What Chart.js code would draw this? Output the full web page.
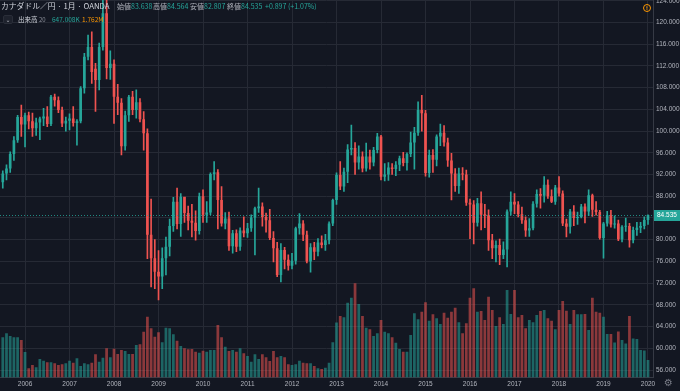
<!DOCTYPE html>
<html lang="ja">
<head>
<meta charset="utf-8">
<title>カナダドル／円 1月 OANDA</title>
<script src="https://cdn.jsdelivr.net/npm/chart.js@4.4.1/dist/chart.umd.min.js"></script>
<style>
    html, body { margin: 0; padding: 0; background: #131722; }
    #wrap { position: relative; width: 680px; height: 391px; overflow: hidden; background: #131722; }
    #chart { display: block; }
    .hdr { position: absolute; white-space: nowrap; font-family: 'Noto Sans CJK JP', 'Noto Sans', sans-serif; line-height: 1; }
    .title { top: 2px; left: 1px; font-size: 7.8px; color: #d1d4dc; }
    .ohlc { top: 2.5px; font-size: 7px; color: #b2b5be; }
    .ohlc b { font-weight: normal; color: #26a69a; }
    .chg { top: 2.5px; font-size: 7px; color: #26a69a; }
    .vol { top: 16px; font-size: 6.5px; color: #d1d4dc; }
    .vol .len { color: #8a8e99; font-size: 6px; }
    .vol.v1 { color: #26a69a; }
    .vol.v2 { color: #ff9800; }
    .toggle { position: absolute; left: 3px; top: 15px; width: 10px; height: 9px; border-radius: 2px; background: #1e222d; border: 1px solid #2a2e39; box-sizing: border-box; color: #b2b5be; font: 6px 'DejaVu Sans', sans-serif; text-align: center; line-height: 8px; }
    .event { position: absolute; left: 643px; top: 4px; width: 8px; height: 8px; border: 1px solid #ff9800; border-radius: 50%; box-sizing: border-box; color: #ff9800; font: bold 5px 'DejaVu Sans', sans-serif; text-align: center; line-height: 6px; }
    .gear { position: absolute; left: 664px; top: 377px; color: #787b86; font: 10px 'DejaVu Sans', sans-serif; }
</style>
</head>
<body>
<div id="wrap">
    <canvas id="chart" width="680" height="391"></canvas>
    <div class="hdr title">カナダドル／円 · 1月 · OANDA</div>
    <div class="hdr ohlc" style="left:117px">始値<b>83.638</b></div>
    <div class="hdr ohlc" style="left:153px">高値<b>84.564</b></div>
    <div class="hdr ohlc" style="left:190px">安値<b>82.807</b></div>
    <div class="hdr ohlc" style="left:227px">終値<b>84.535</b></div>
    <div class="hdr chg" style="left:265px">+0.897 (+1.07%)</div>
    <div class="toggle">⌄</div>
    <div class="hdr vol" style="left:18px">出来高 <span class="len">20</span></div>
    <div class="hdr vol v1" style="left:52px">647.008K</div>
    <div class="hdr vol v2" style="left:82px">1.762M</div>
    <div class="event">!</div>
    <div class="gear">⚙</div>
</div>
<script>
    // monthly candles, Jul 2005 .. Jan 2020
    const START_YEAR = 2005;
    const START_MONTH = 7;

    const opens = [
        90.6, 92.2, 93.1, 95.8, 98.3, 102.6,
        101.2, 102.9, 101.8, 100.5, 101.6, 102.3, 102.7, 101.3, 106.3, 105.7, 103.9, 101.4,
        101.9, 102.3, 101.5, 101.8, 107.9, 113.7, 115.5, 111.5, 109.4, 115.5, 121.7, 111.6,
        112.4, 106.3, 105.2, 97.2, 102.9, 106.3, 103.9, 105.3, 102.2, 99.6, 80.9, 76.6,
        74.1, 73.2, 76.6, 78.7, 82.5, 87.0, 82.9, 87.9, 84.9, 83.5, 83.1, 81.6,
        88.0, 84.6, 85.0, 92.1, 92.4, 87.3, 83.0, 83.9, 78.8, 81.2, 78.7, 81.7,
        81.2, 82.1, 84.1, 85.8, 86.1, 84.2, 83.6, 80.3, 78.4, 73.5, 78.1, 76.3,
        75.2, 76.1, 82.1, 83.0, 80.9, 76.0, 78.6, 77.8, 79.5, 79.0, 79.9, 83.0,
        87.3, 91.9, 89.8, 92.5, 96.6, 96.9, 94.2, 95.3, 93.1, 95.3, 94.2, 96.5,
        99.0, 91.6, 92.0, 93.3, 93.0, 93.8, 95.0, 94.1, 95.8, 97.9, 99.7, 103.9,
        103.3, 92.3, 95.6, 94.7, 99.0, 99.7, 97.9, 94.6, 92.2, 89.9, 92.2, 92.0,
        86.8, 86.5, 83.1, 86.7, 84.6, 84.5, 79.9, 78.4, 79.0, 77.2, 78.2, 85.2,
        87.0, 86.5, 84.7, 83.6, 81.7, 82.1, 86.6, 88.4, 88.1, 90.1, 88.0, 87.0,
        89.6, 88.5, 83.0, 82.4, 85.2, 84.0, 84.2, 86.1, 85.2, 88.2, 85.5, 85.1,
        80.3, 83.0, 84.5, 82.8, 83.0, 80.1, 82.4, 82.5, 79.9, 81.8, 82.2, 82.5,
        83.638
    ];
    const highs = [
        92.7, 93.8, 96.2, 99.0, 102.9, 104.8,
        103.3, 103.5, 103.3, 102.4, 102.6, 104.2, 104.5, 106.6, 106.8, 106.3, 104.4, 102.6,
        103.2, 104.5, 102.1, 108.2, 114.3, 117.7, 118.3, 112.5, 116.2, 124.6, 125.0, 114.8,
        113.1, 108.6, 106.0, 103.7, 106.6, 107.3, 107.6, 106.0, 103.6, 100.4, 87.5, 80.0,
        78.0, 78.5, 80.5, 83.8, 87.8, 89.5, 88.5, 87.8, 86.2, 86.5, 85.3, 88.6,
        89.2, 87.0, 92.3, 94.4, 92.9, 89.8, 85.0, 85.1, 81.7, 81.8, 82.2, 84.2,
        83.0, 84.6, 86.0, 89.5, 86.8, 84.9, 85.6, 81.5, 79.5, 79.3, 78.6, 77.2,
        77.5, 82.3, 84.8, 83.5, 81.6, 79.3, 79.5, 80.2, 80.7, 81.0, 83.3, 87.5,
        92.3, 94.4, 93.2, 97.5, 101.1, 97.9, 97.3, 96.2, 97.8, 96.5, 97.0, 99.6,
        99.2, 94.0, 94.2, 94.0, 94.4, 95.4, 96.1, 96.0, 99.8, 100.7, 105.4, 106.6,
        103.8, 96.5, 96.6, 99.3, 101.3, 101.0, 98.7, 95.9, 93.1, 93.2, 93.3, 92.8,
        87.5, 87.2, 87.6, 88.8, 86.5, 85.5, 81.0, 79.8, 80.1, 79.6, 85.5, 88.8,
        88.5, 87.0, 86.0, 84.2, 83.9, 87.0, 89.2, 89.4, 91.6, 91.0, 89.2, 90.0,
        91.6, 89.0, 83.8, 85.6, 86.3, 85.1, 86.5, 86.6, 89.2, 88.4, 87.0, 85.4,
        83.2, 85.2, 85.4, 84.4, 83.6, 82.6, 84.0, 83.0, 82.3, 83.2, 83.2, 84.2,
        84.564
    ];
    const lows = [
        89.5, 91.0, 92.4, 94.6, 97.9, 99.0,
        97.1, 100.4, 99.0, 99.2, 98.4, 101.0, 100.8, 101.0, 104.6, 103.4, 100.8, 100.0,
        100.2, 100.9, 97.4, 101.5, 107.0, 113.1, 108.8, 103.6, 107.6, 114.9, 109.6, 109.5,
        101.4, 103.0, 95.6, 96.5, 101.8, 103.0, 102.4, 101.7, 96.5, 76.5, 71.3, 71.0,
        68.9, 71.0, 73.5, 77.0, 81.5, 82.0, 80.6, 83.2, 81.8, 80.5, 79.9, 81.0,
        83.2, 83.2, 84.6, 91.0, 82.0, 82.5, 82.0, 78.0, 77.5, 77.8, 78.0, 80.5,
        80.4, 81.5, 77.2, 85.0, 82.5, 81.4, 80.0, 75.9, 73.2, 72.2, 74.6, 74.4,
        74.6, 75.5, 81.0, 79.8, 75.7, 74.0, 76.3, 77.0, 78.5, 78.0, 79.2, 82.6,
        86.5, 89.2, 88.9, 90.5, 95.6, 92.0, 93.0, 92.5, 92.6, 93.0, 93.6, 96.0,
        91.0, 90.8, 90.9, 92.0, 91.8, 92.7, 93.6, 92.8, 95.3, 93.0, 99.2, 100.0,
        91.7, 91.5, 92.4, 93.6, 97.3, 97.2, 93.5, 87.3, 88.9, 88.5, 91.0, 86.3,
        80.2, 79.2, 82.5, 81.8, 82.2, 78.0, 76.5, 75.9, 75.4, 76.5, 75.0, 84.5,
        84.8, 84.2, 83.0, 80.6, 80.6, 81.8, 86.0, 85.8, 86.9, 87.6, 86.8, 86.5,
        88.0, 82.6, 80.5, 81.2, 82.6, 82.8, 84.0, 83.1, 84.4, 84.3, 84.5, 80.1,
        76.6, 82.5, 82.3, 82.1, 79.8, 79.6, 81.5, 78.6, 79.4, 80.8, 81.3, 82.0,
        82.807
    ];
    const closes = [
        92.2, 93.1, 95.8, 98.3, 102.6, 101.2,
        102.9, 101.8, 100.5, 101.6, 102.3, 102.7, 101.3, 106.3, 105.7, 103.9, 101.4, 101.9,
        102.3, 101.5, 101.8, 107.9, 113.7, 115.5, 110.9, 109.4, 115.5, 121.7, 111.6, 112.4,
        106.3, 105.2, 97.2, 102.9, 106.3, 103.9, 105.3, 102.2, 99.6, 80.9, 76.6, 74.1,
        73.2, 76.6, 78.7, 82.5, 87.0, 82.9, 87.9, 84.9, 83.5, 83.1, 81.6, 88.0,
        84.6, 85.0, 92.1, 92.4, 87.3, 83.0, 83.9, 78.8, 81.2, 78.7, 81.7, 81.2,
        82.1, 84.1, 85.8, 86.1, 84.2, 83.6, 80.3, 78.4, 73.5, 78.1, 76.3, 75.2,
        76.1, 82.1, 83.0, 80.9, 76.0, 78.6, 77.8, 79.5, 79.0, 79.9, 83.0, 87.3,
        91.9, 89.8, 92.5, 96.6, 96.9, 94.2, 95.3, 93.1, 95.3, 94.2, 96.5, 99.0,
        91.6, 92.0, 93.3, 93.0, 93.8, 95.0, 94.1, 95.8, 97.9, 99.7, 103.9, 103.3,
        92.3, 95.6, 94.7, 99.0, 99.7, 97.9, 94.6, 92.2, 89.9, 92.2, 92.0, 86.8,
        86.5, 83.1, 86.7, 84.6, 84.5, 79.9, 78.4, 79.0, 77.2, 78.2, 85.2, 87.0,
        86.5, 84.7, 83.6, 81.7, 82.1, 86.6, 88.4, 88.1, 90.1, 88.0, 87.0, 89.6,
        88.5, 83.0, 82.4, 85.2, 84.0, 84.2, 86.1, 85.2, 88.2, 85.5, 85.1, 80.3,
        83.0, 84.5, 82.8, 83.0, 80.1, 82.4, 82.5, 79.9, 81.8, 82.2, 82.5, 83.638,
        84.535
    ];
    // volume in thousands
    const volumes = [
        1487, 1635, 1536, 1487, 1487, 1388,
        944, 340, 463, 377, 685, 622, 562, 562, 525, 463, 488, 525,
        622, 548, 710, 426, 525, 488, 548, 858, 585, 733, 1080, 747,
        1066, 870, 1018, 981, 870, 870, 1203, 1228, 1695, 2250, 1820, 1510,
        1672, 1302, 1843, 1820, 1598, 1362, 1166, 1080, 1043, 1055, 955, 918,
        992, 955, 1018, 1018, 1943, 1487, 1140, 981, 1018, 955, 1080, 895,
        796, 585, 858, 685, 858, 747, 611, 981, 747, 796, 747, 488,
        463, 488, 622, 548, 525, 525, 426, 340, 315, 363, 548, 1302,
        2035, 2276, 2227, 2768, 2953, 3485, 2720, 2276, 1843, 1783, 1536, 1635,
        2128, 1695, 1635, 1487, 1288, 1055, 955, 955, 1573, 2375, 2153, 2435,
        2782, 2102, 2338, 2190, 1980, 2398, 2213, 2435, 2583, 2042, 1635, 2005,
        2953, 3300, 2435, 2461, 2128, 2990, 2498, 1906, 2227, 1980, 3238, 2350,
        3238, 2227, 2313, 1820, 2128, 2042, 2313, 2461, 2498, 2190, 2102, 1783,
        2498, 2831, 2472, 1980, 2498, 2338, 2338, 2350, 1758, 2953, 2435, 2398,
        2250, 1610, 1610, 1295, 1702, 1388, 1258, 2276, 1443, 1425, 1018, 999,
        647
    ];

    const yearLabels = ['2006', '2007', '2008', '2009', '2010', '2011', '2012', '2013',
        '2014', '2015', '2016', '2017', '2018', '2019', '2020'];
    const priceTicks = [56, 60, 64, 68, 72, 76, 80, 84, 88, 92, 96, 100, 104, 108, 112, 116, 120, 124];

    const UP = '#26a69a';
    const DOWN = '#ef5350';
    const UP_VOL = 'rgba(38, 166, 154, 0.55)';
    const DOWN_VOL = 'rgba(239, 83, 80, 0.55)';
    const GRID = '#262a35';
    const TEXT = '#b2b5be';

    const months = closes.map((_, i) => {
        const m = START_MONTH - 1 + i;
        return (START_YEAR + Math.floor(m / 12)) + '-' + String(m % 12 + 1).padStart(2, '0');
    });
    const yearPos = {};
    yearLabels.forEach(y => { yearPos[months.indexOf(y + '-01')] = y; });

    const isUp = closes.map((c, i) => c >= opens[i]);
    const bodies = closes.map((c, i) => ({ x: i, y: [Math.min(opens[i], c), Math.max(opens[i], c)] }));
    const wicks = closes.map((c, i) => ({ x: i, y: [lows[i], highs[i]] }));
    const vols = volumes.map((v, i) => ({ x: i, y: v }));

    const lastClose = closes[closes.length - 1];

    const lastPricePlugin = {
        id: 'lastPrice',
        afterDatasetsDraw(chart) {
            const { ctx, chartArea, scales } = chart;
            const y = Math.round(scales.y.getPixelForValue(lastClose)) + 0.5;
            ctx.save();
            ctx.strokeStyle = 'rgba(38, 166, 154, 0.8)';
            ctx.lineWidth = 1;
            ctx.setLineDash([1, 2]);
            ctx.beginPath();
            ctx.moveTo(chartArea.left, y);
            ctx.lineTo(chartArea.right, y);
            ctx.stroke();
            ctx.setLineDash([]);
            ctx.fillStyle = UP;
            ctx.fillRect(chartArea.right + 1, y - 5.5, 680 - chartArea.right, 11);
            ctx.fillStyle = '#ffffff';
            ctx.font = '6.5px "Liberation Sans", sans-serif';
            ctx.textBaseline = 'middle';
            ctx.fillText(lastClose.toFixed(3), chartArea.right + 4, y);
            ctx.restore();
        }
    };

    document.addEventListener('DOMContentLoaded', () => {
        new Chart(document.getElementById('chart').getContext('2d'), {
            type: 'bar',
            data: {
                datasets: [
                    {
                        label: '出来高',
                        data: vols,
                        yAxisID: 'v',
                        backgroundColor: isUp.map(u => u ? UP_VOL : DOWN_VOL),
                        barPercentage: 0.74,
                        categoryPercentage: 1,
                        grouped: false,
                        order: 3
                    },
                    {
                        label: 'wick',
                        data: wicks,
                        yAxisID: 'y',
                        backgroundColor: isUp.map(u => u ? UP : DOWN),
                        barThickness: 1,
                        grouped: false,
                        order: 2
                    },
                    {
                        label: 'body',
                        data: bodies,
                        yAxisID: 'y',
                        backgroundColor: isUp.map(u => u ? UP : DOWN),
                        barPercentage: 0.72,
                        categoryPercentage: 1,
                        minBarLength: 1,
                        grouped: false,
                        order: 1
                    }
                ]
            },
            options: {
                responsive: false,
                animation: false,
                devicePixelRatio: 1,
                layout: { padding: 0 },
                plugins: {
                    legend: { display: false },
                    tooltip: { enabled: false }
                },
                scales: {
                    x: {
                        type: 'linear',
                        offset: false,
                        min: -0.75,
                        max: 175.35,
                        afterBuildTicks: axis => {
                            axis.ticks = Object.keys(yearPos).map(k => ({ value: Number(k) }));
                        },
                        afterFit: axis => {
                            axis.height = 13.5;
                            axis.paddingLeft = 0;
                            axis.paddingRight = 0;
                        },
                        ticks: {
                            callback: v => yearPos[v] || '',
                            color: TEXT,
                            font: { size: 6.5, family: '"Liberation Sans", sans-serif' },
                            padding: 3,
                            maxRotation: 0,
                            autoSkip: false
                        },
                        grid: { color: GRID, drawTicks: false, offset: false },
                        border: { color: '#363a45' }
                    },
                    y: {
                        position: 'right',
                        min: 54.62,
                        max: 124.14,
                        afterBuildTicks: axis => {
                            axis.ticks = priceTicks.map(v => ({ value: v }));
                        },
                        afterFit: axis => {
                            axis.width = 27;
                            axis.paddingTop = 0;
                            axis.paddingBottom = 0;
                        },
                        ticks: {
                            callback: v => v.toFixed(3),
                            color: TEXT,
                            font: { size: 6.5, family: '"Liberation Sans", sans-serif' },
                            padding: 3
                        },
                        grid: { color: GRID, drawTicks: false },
                        border: { color: '#363a45' }
                    },
                    v: {
                        display: false,
                        min: 0,
                        max: 13970
                    }
                }
            },
            plugins: [lastPricePlugin]
        });
    });
</script>
</body>
</html>
